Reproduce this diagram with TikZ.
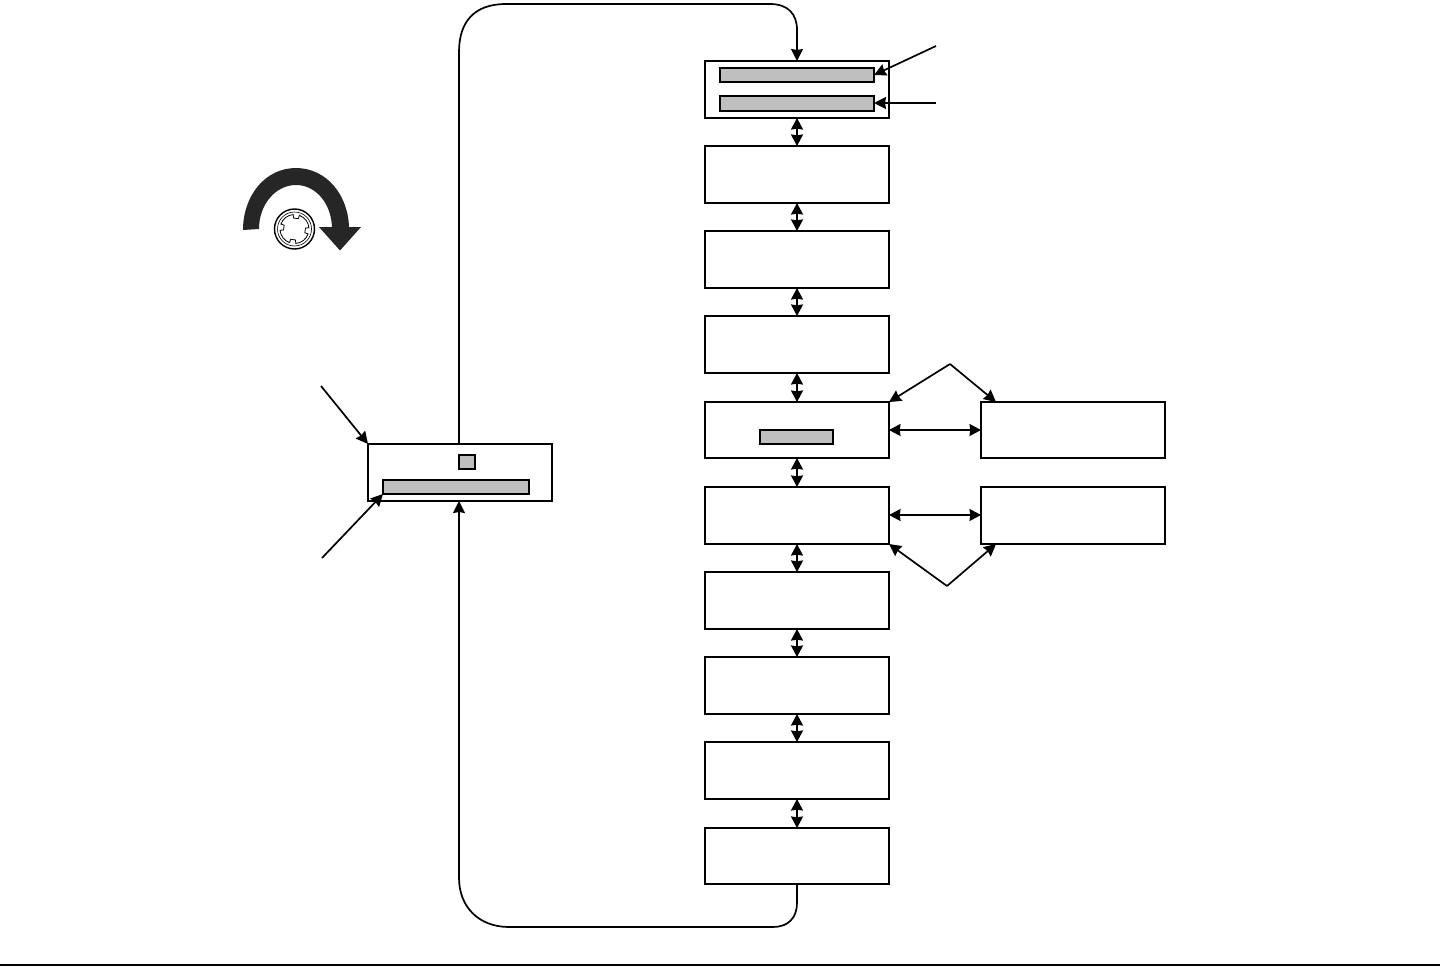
\documentclass[tikz,border=0pt]{standalone}
\usetikzlibrary{arrows.meta,calc}
\tikzset{
  boxn/.style={draw=black,fill=white,line width=1.6pt,minimum width=184pt,inner sep=0pt,outer sep=0pt},
  greybar/.style={draw=black,fill=black!25,line width=1.6pt,inner sep=0pt,outer sep=0pt},
  conn/.style={draw=black,line width=1.7pt},
  tiparrow/.style={-{Stealth[length=12pt,width=12pt,inset=1pt]}},
  dtiparrow/.style={{Stealth[length=11.5pt,width=12pt,inset=.8pt]}-{Stealth[length=11.5pt,width=12pt,inset=.8pt]}},
}
\begin{document}
\begin{tikzpicture}[x=1pt,y=-1pt]
\useasboundingbox (0,0) rectangle (1440,966);
% centre column
\node[boxn,minimum height=57pt] (b1) at (797,89.5) {};
\node[boxn,minimum height=57pt] (b2) at (797,174.5) {};
\node[boxn,minimum height=57pt] (b3) at (797,259.5) {};
\node[boxn,minimum height=57pt] (b4) at (797,344.5) {};
\node[boxn,minimum height=56pt] (b5) at (797,430) {};
\node[boxn,minimum height=57pt] (b6) at (797,515.5) {};
\node[boxn,minimum height=57pt] (b7) at (797,600.5) {};
\node[boxn,minimum height=57pt] (b8) at (797,685.5) {};
\node[boxn,minimum height=57pt] (b9) at (797,770.5) {};
\node[boxn,minimum height=56pt] (b10) at (797,856) {};
% right boxes
\node[boxn,minimum height=56pt] (r1) at (1073,430) {};
\node[boxn,minimum height=57pt] (r2) at (1073,515.5) {};
% left box
\node[boxn,minimum height=57pt] (l) at (460,472.5) {};
% gray bars
\node[greybar,minimum width=154pt,minimum height=14pt] (g1) at (797,75) {};
\node[greybar,minimum width=154pt,minimum height=15pt] (g2) at (797,103.5) {};
\node[greybar,minimum width=73pt,minimum height=14pt] (g3) at (796.5,437) {};
\node[greybar,minimum width=146pt,minimum height=14pt] (g4) at (456,487) {};
\node[greybar,minimum width=16pt,minimum height=14pt] (g5) at (467,462) {};
% vertical double arrows
\foreach \a/\b in {b1/b2,b2/b3,b3/b4,b4/b5,b5/b6,b6/b7,b7/b8,b8/b9,b9/b10}
  \draw[conn,dtiparrow] (\a.south) -- (\b.north);
% horizontal double arrows
\draw[conn,dtiparrow] (b5.east) -- (r1.west);
\draw[conn,dtiparrow] ([yshift=.5pt]b6.east) -- ([yshift=.5pt]r2.west);
% free ends
\coordinate (c1) at (936,46);
\coordinate (c2) at (936,103);
\coordinate (c3) at (950,364);
\coordinate (c4) at (947,586);
\coordinate (c5) at (321,386);
\coordinate (c6) at (322,558);
\coordinate (r1t) at (996,402);
\coordinate (r2b) at (996,544);
\draw[conn,tiparrow] (c1) -- (g1.east);
\draw[conn,tiparrow] (c2) -- ([yshift=.5pt]g2.east);
\draw[conn,tiparrow] (c5) -- (l.north west);
\draw[conn,tiparrow] (c6) -- (g4.south west);
\draw[conn,tiparrow] (c3) -- (b5.north east);
\draw[conn,tiparrow] (c3) -- (r1t);
\draw[conn,tiparrow] (c4) -- (b6.south east);
\draw[conn,tiparrow] (c4) -- (r2b);
% loops
\draw[conn,tiparrow] ([xshift=-1pt]l.north) -- (459,52) .. controls (459,22) and (474,4) .. (506,4) -- (770,4)
   .. controls (788,4) and (797,14) .. (797,30) -- (b1.north);
\draw[conn,tiparrow] (b10.south) -- (797,903) .. controls (797,918) and (788,927) .. (773,927) -- (509,927)
   .. controls (478,927) and (459,906) .. (459,878) -- ([xshift=-1pt]l.south);
% bottom rule
\draw[line width=1.2pt] (0,965) -- (1440,965);
% rotation icon
\fill[black!85] (243,230) .. controls (243,196) and (265,168) .. (296,168)
   .. controls (327,168) and (349,196) .. (349,229) -- (332,229)
   .. controls (332,204) and (316,185) .. (296,185)
   .. controls (276,185) and (259,204) .. (259,229) -- cycle;
\fill[black!85] (319,227) -- (361,227) -- (340,250.5) -- cycle;
\draw[line width=1.4pt,fill=white] (294.5,229) circle[radius=20];
\draw[line width=.6pt] (294.5,229) circle[radius=17];
\draw[line width=.8pt] (294.5,229) ++(20:14.5)
  arc[start angle=20,end angle=85,radius=14.5] -- ++(85:-3.5)
  arc[start angle=85,end angle=110,radius=11] -- ++(110:3.5)
  arc[start angle=110,end angle=175,radius=14.5] -- ++(175:-3.5)
  arc[start angle=175,end angle=200,radius=11] -- ++(200:3.5)
  arc[start angle=200,end angle=265,radius=14.5] -- ++(265:-3.5)
  arc[start angle=265,end angle=290,radius=11] -- ++(290:3.5)
  arc[start angle=290,end angle=355,radius=14.5] -- ++(355:-3.5)
  arc[start angle=355,end angle=380,radius=11] -- cycle;
\end{tikzpicture}
\end{document}
